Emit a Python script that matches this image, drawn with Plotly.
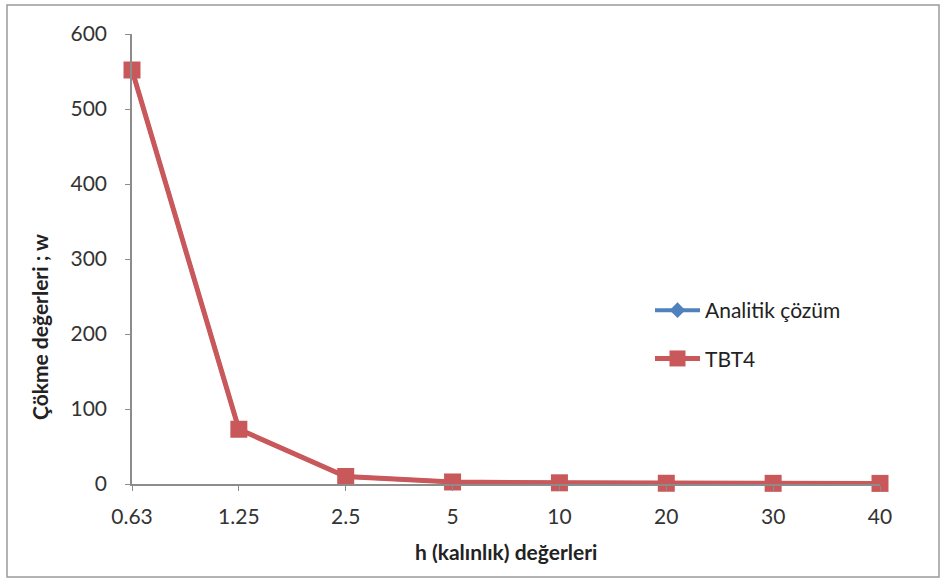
import plotly.graph_objects as go

categories = ["0.63", "1.25", "2.5", "5", "10", "20", "30", "40"]
analitik = [552, 73, 10, 2.7, 1.6, 1.0, 0.9, 0.8]
tbt4 = [552, 73, 10, 2.7, 1.6, 1.0, 0.9, 0.8]
y_ticks = [0, 100, 200, 300, 400, 500, 600]
x_title = "h (kalınlık) değerleri"
y_title = "Çökme değerleri ; w"

FONT = "Lato, 'Open Sans', sans-serif"

fig = go.Figure()
fig.add_trace(go.Scatter(
    x=categories, y=analitik, name="Analitik çözüm", mode="lines+markers",
    line=dict(color="#4F81BD", width=4),
    marker=dict(symbol="diamond", size=12, color="#4F81BD"),
    cliponaxis=False, legendgroup="a"))
fig.add_trace(go.Scatter(
    x=categories, y=tbt4, name="TBT4", mode="lines+markers",
    line=dict(color="#C9585A", width=5),
    marker=dict(symbol="square", size=17, color="#C9585A"),
    cliponaxis=False, legendgroup="b"))

L, R, T, B = 132, 880, 34, 484
W, H = 944, 582
pw, ph = R - L, B - T

def px(x):
    return (x - L) / pw

def py(y):
    return (B - y) / ph

fig.update_layout(
    width=W, height=H,
    margin=dict(l=L, r=W - R, t=T, b=H - B),
    paper_bgcolor="white", plot_bgcolor="white",
    font=dict(family=FONT, size=21, color="#333333"),
    showlegend=True,
    legend=dict(x=px(650), y=py(290), xanchor="left", yanchor="top",
                font=dict(size=21, color="#222222"),
                itemwidth=45,
                tracegroupgap=18, traceorder="grouped",
                bgcolor="rgba(0,0,0,0)"),
    xaxis=dict(type="category", range=[0, 7], showgrid=False,
               showline=True, linecolor="#8c8c8c", linewidth=1.5,
               ticks="outside", ticklen=5, tickcolor="#8c8c8c",
               ticklabelstandoff=8,
               tickfont=dict(size=21, color="#333333"),
               zeroline=False),
    yaxis=dict(range=[0, 600], tickvals=y_ticks, showgrid=False,
               showline=True, linecolor="#8c8c8c", linewidth=1.5,
               ticks="outside", ticklen=5, tickcolor="#8c8c8c",
               ticklabelstandoff=14,
               tickfont=dict(size=21, color="#333333"),
               zeroline=False),
    annotations=[
        dict(text="<b>" + x_title + "</b>", xref="paper", yref="paper",
             x=px(506), y=py(551), xanchor="center", yanchor="middle",
             showarrow=False, font=dict(size=21, color="#222222")),
        dict(text="<b>" + y_title + "</b>", xref="paper", yref="paper",
             x=px(39), y=py(327), xanchor="center", yanchor="middle",
             textangle=-90, showarrow=False,
             font=dict(size=21, color="#222222")),
    ],
    shapes=[dict(type="rect", xref="paper", yref="paper",
                 x0=px(7), x1=px(939), y0=py(577), y1=py(5),
                 line=dict(color="#9a9a9a", width=1.5), layer="below")],
)

fig.write_html("out.html")
